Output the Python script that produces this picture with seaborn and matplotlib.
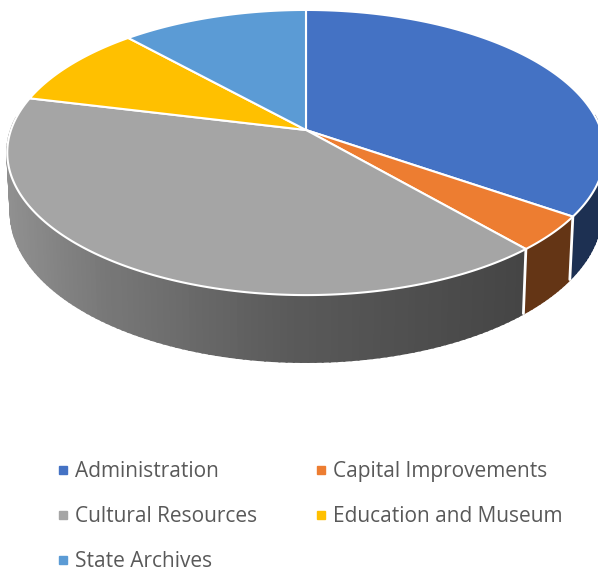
import numpy as np
import matplotlib
matplotlib.use("Agg")
import matplotlib.pyplot as plt
from matplotlib.lines import Line2D
import seaborn as sns

# Slice names and shares (percent)
categories = ["Administration", "Capital Improvements", "Cultural Resources",
              "Education and Museum", "State Archives"]
shares = [34.6, 4.0, 40.2, 9.45, 11.75]
colors = ["#4472C4", "#ED7D31", "#A5A5A5", "#FFC000", "#5B9BD5"]

sns.set_theme(style="white")
plt.rcParams["font.family"] = ["Open Sans", "DejaVu Sans"]
palette = sns.color_palette(colors)

# Perspective disc settings, in pixels
cx, cy = 306, 130
rx, ry = 295, 139
k = 0.158


def top_rim(theta):
    # theta runs clockwise from 12 o'clock
    u, v = np.sin(theta), np.cos(theta)
    w = 1 + k * v
    return cx + rx * u / w, cy - ry * v / w


def bottom_rim(theta):
    x, y = top_rim(theta)
    return cx + (x - cx) * 0.9886, y + 58.6 + 0.05 * (y - cy)


def shade(x):
    # side walls get darker from left to right
    return np.interp(x, [8, 100, 280, 520], [0.87, 0.73, 0.55, 0.42])


fig, ax = plt.subplots(figsize=(5.98, 5.71), dpi=100)
ax.set_position([0, 0, 1, 1])
ax.set_xlim(0, 598)
ax.set_ylim(571, 0)
ax.axis("off")

edges = np.concatenate([[0], np.cumsum(shares)]) / sum(shares) * 2 * np.pi

# Side walls first, only the front part, the top covers the upper edge
for i in range(len(shares)):
    steps = np.linspace(edges[i], edges[i + 1], int(shares[i] * 3) + 2)
    for a, b in zip(steps[:-1], steps[1:]):
        if np.cos((a + b) / 2) > 0.1:
            continue
        x1, y1 = top_rim(np.array([a, b]))
        x2, y2 = bottom_rim(np.array([b, a]))
        c = np.array(palette[i]) * shade(x1.mean())
        ax.fill(np.r_[x1, x2], np.r_[y1, y2], color=c, lw=1.5, zorder=1)

# White separators on the front of the wall
for i in range(len(shares)):
    x1, y1 = top_rim(edges[i])
    x2, y2 = bottom_rim(edges[i])
    if np.cos(edges[i]) < -0.2:
        ax.plot([x1, x2], [y1, y2], color="white", lw=2, zorder=2)

# Top of the pie
for i in range(len(shares)):
    t = np.linspace(edges[i], edges[i + 1], 200)
    x, y = top_rim(t)
    ax.fill(np.r_[cx, x], np.r_[cy, y], facecolor=palette[i], edgecolor="white",
            lw=1.5, joinstyle="round", zorder=3)

handles = [Line2D([], [], marker="s", ls="none", ms=6, color=palette[i]) for i in range(5)]
order = [0, 2, 4, 1, 3]
leg = ax.legend([handles[i] for i in order], [categories[i] for i in order],
                ncols=2, loc="upper left", bbox_to_anchor=(55, 461),
                bbox_transform=ax.transData, frameon=False, fontsize=15,
                labelcolor="#595959", borderpad=0, borderaxespad=0,
                handlelength=0.8, handletextpad=0.16, labelspacing=1.15,
                columnspacing=2.67)

fig.savefig("out.png", dpi=100)
